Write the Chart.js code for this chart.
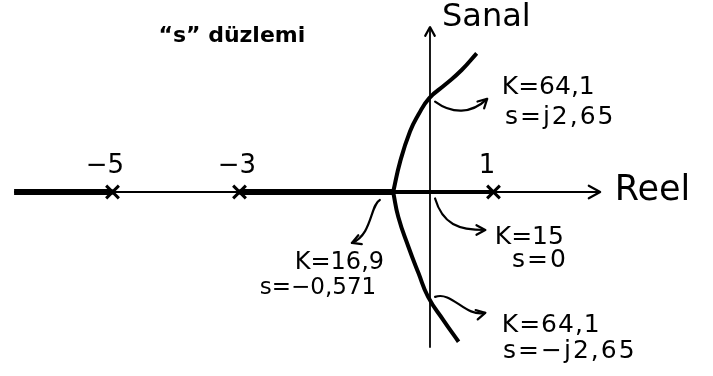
<!DOCTYPE html>
<html>
<head>
<meta charset="utf-8">
<script src="https://cdn.jsdelivr.net/npm/chart.js@4.4.1/dist/chart.umd.min.js"></script>
<style>
  html, body { margin: 0; padding: 0; background: #fff; }
  #wrap { width: 713px; height: 376px; }
</style>
</head>
<body>
<div id="wrap"><canvas id="locus"></canvas></div>
<script>
// poles of the open loop system, on the real axis
var poles = [-5, -3, 1];
var poleLabels = ['\u22125', '\u22123', '1'];

// root locus branches (re, im)
var upperRe = [-0.58, -0.47, -0.315, -0.184, -0.011, 0.236, 0.499, 0.735];
var upperIm = [0, 0.8, 1.59, 2.03, 2.47, 2.82, 3.21, 3.65];
var lowerRe = [-0.58, -0.5, -0.34, -0.18, -0.03, 0.21, 0.45];
var lowerIm = [0, -0.65, -1.44, -2.14, -2.76, -3.37, -3.94];

// parts of the real axis that belong to the locus
var thickSegs = [[-6.55, -5], [-3, -0.58]];
var breakaway = -0.58;

// axis ends
var reelEnds = [-6.55, 2.68];
var sanalEnds = [-4.1, 4.34];

function pts(xs, ys) {
    return xs.map(function (x, i) { return { x: x, y: ys[i] }; });
}

var datasets = [];
datasets.push({ data: [{ x: reelEnds[0], y: 0 }, { x: reelEnds[1], y: 0 }], borderWidth: 2.2 });
datasets.push({ data: [{ x: 0, y: sanalEnds[0] }, { x: 0, y: sanalEnds[1] }], borderWidth: 1.8 });
thickSegs.forEach(function (s) {
    datasets.push({ data: [{ x: s[0], y: 0 }, { x: s[1], y: 0 }], borderWidth: 6 });
});
datasets.push({ data: [{ x: breakaway, y: 0 }, { x: poles[2], y: 0 }], borderWidth: 4 });
datasets.push({ data: pts(upperRe, upperIm), borderWidth: 4, tension: 0.5 });
datasets.push({ data: pts(lowerRe, lowerIm), borderWidth: 4, tension: 0.5 });
datasets.forEach(function (d) {
    d.showLine = true;
    d.borderColor = '#000';
    d.pointRadius = 0;
    d.fill = false;
});
datasets.push({
    data: poles.map(function (p) { return { x: p, y: 0 }; }),
    showLine: false,
    pointStyle: 'crossRot',
    pointRadius: 9,
    borderWidth: 3,
    borderColor: '#000'
});

// text notes: [text, re, im, size, align, letter spacing, weight]
var notes = [
    ['\u201cs\u201d d\u00fczlemi', -3.12, 4.1, 22, 'center', 0, 'bold'],
    ['Sanal', 0.19, 4.58, 32, 'left', 0, 'normal'],
    ['Reel', 2.91, 0.03, 35, 'left', 0, 'normal'],
    [poleLabels[0], -5.12, 0.68, 26, 'center', 0, 'normal'],
    [poleLabels[1], -3.04, 0.68, 26, 'center', 0, 'normal'],
    [poleLabels[2], 0.9, 0.68, 26, 'center', 0, 'normal'],
    ['K=64,1', 1.13, 2.74, 25, 'left', 0, 'normal'],
    ['s=j2,65', 1.18, 1.95, 25, 'left', 2, 'normal'],
    ['K=15', 1.02, -1.21, 25, 'left', 0, 'normal'],
    ['s=0', 1.29, -1.79, 25, 'left', 2, 'normal'],
    ['K=16,9', -2.13, -1.87, 24, 'left', 0, 'normal'],
    ['s=\u22120,571', -2.68, -2.53, 23, 'left', 0, 'normal'],
    ['K=64,1', 1.13, -3.5, 25, 'left', 1, 'normal'],
    ['s=\u2212j2,65', 1.15, -4.21, 25, 'left', 2, 'normal']
];

// curved pointer arrows: start, control 1, control 2, end (re, im)
var pointers = [
    [[0.08, 2.38], [0.35, 2.05], [0.65, 2.05], [0.9, 2.45]],
    [[-0.79, -0.21], [-0.94, -0.34], [-0.91, -1.13], [-1.23, -1.34]],
    [[0.08, -0.17], [0.2, -0.85], [0.45, -1.0], [0.87, -1.0]],
    [[0.08, -2.76], [0.35, -2.6], [0.55, -3.3], [0.87, -3.18]]
];

var sketch = {
    id: 'sketch',
    afterDatasetsDraw: function (chart) {
        var ctx = chart.ctx;
        var xs = chart.scales.x, ys = chart.scales.y;
        function px(p) { return [xs.getPixelForValue(p[0]), ys.getPixelForValue(p[1])]; }
        function head(tip, ang, len) {
            ctx.beginPath();
            ctx.moveTo(tip[0] - len * Math.cos(ang - 0.5), tip[1] - len * Math.sin(ang - 0.5));
            ctx.lineTo(tip[0], tip[1]);
            ctx.lineTo(tip[0] - len * Math.cos(ang + 0.5), tip[1] - len * Math.sin(ang + 0.5));
            ctx.stroke();
        }
        ctx.save();
        ctx.strokeStyle = '#000';
        ctx.lineCap = 'round';
        ctx.lineJoin = 'round';
        // axis arrowheads
        ctx.lineWidth = 2.2;
        head(px([reelEnds[1], 0]), 0, 13);
        head(px([0, sanalEnds[1]]), -Math.PI / 2, 10);
        // pointer arrows
        ctx.lineWidth = 2.2;
        pointers.forEach(function (a) {
            var p0 = px(a[0]), p1 = px(a[1]), p2 = px(a[2]), p3 = px(a[3]);
            ctx.beginPath();
            ctx.moveTo(p0[0], p0[1]);
            ctx.bezierCurveTo(p1[0], p1[1], p2[0], p2[1], p3[0], p3[1]);
            ctx.stroke();
            head(p3, Math.atan2(p3[1] - p2[1], p3[0] - p2[0]), 10);
        });
        // notes
        ctx.fillStyle = '#000';
        ctx.textBaseline = 'middle';
        notes.forEach(function (n) {
            var p = px([n[1], n[2]]);
            ctx.font = n[6] + ' ' + n[3] + 'px "DejaVu Sans"';
            ctx.textAlign = n[4];
            ctx.letterSpacing = n[5] + 'px';
            ctx.fillText(n[0], p[0], p[1]);
        });
        ctx.restore();
    }
};

Chart.defaults.plugins.tooltip.enabled = false;
Chart.defaults.plugins.legend.display = false;

var chart = new Chart(document.getElementById('locus').getContext('2d'), {
    type: 'scatter',
    data: { datasets: datasets },
    plugins: [sketch],
    options: {
        responsive: true,
        maintainAspectRatio: false,
        animation: false,
        layout: { padding: 0, autoPadding: false },
        scales: {
            x: { type: 'linear', display: false, min: -6.772, max: 4.457 },
            y: { type: 'linear', display: false, min: -4.842, max: 5.053 }
        },
        plugins: {
            legend: { display: false },
            tooltip: { enabled: false }
        }
    }
});
</script>
</body>
</html>
